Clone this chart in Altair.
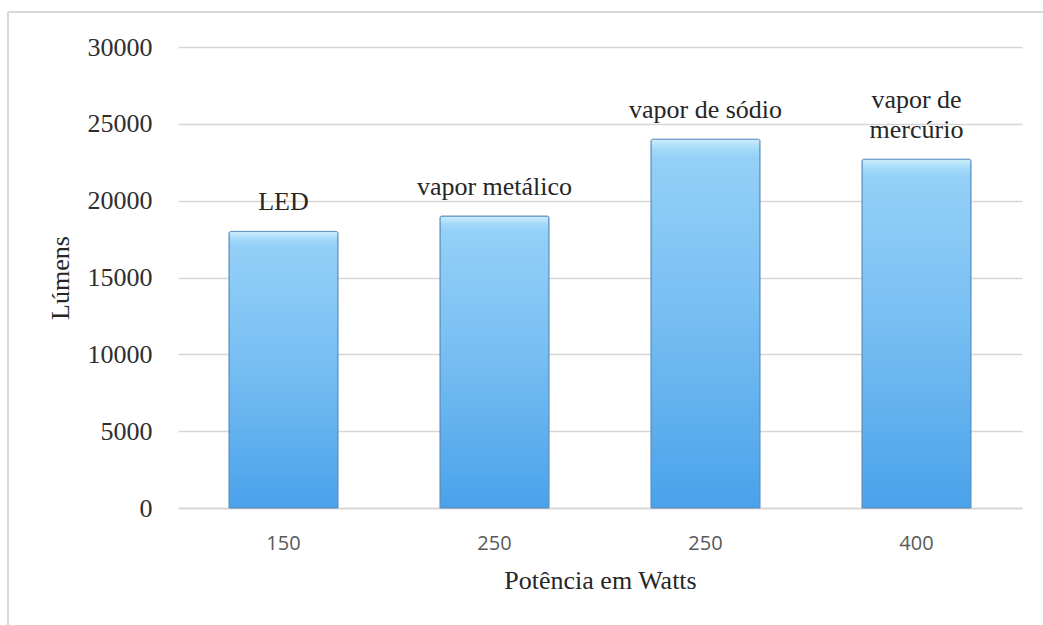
import altair as alt
import pandas as pd

# Lamp types, their rated power and luminous flux
lampadas = ["LED", "vapor metálico", "vapor de sódio", "vapor de mercúrio"]
linha_inferior = ["LED", "vapor metálico", "vapor de sódio", "mercúrio"]
linha_superior = ["", "", "", "vapor de"]
potencias = ["150", "250", "250", "400"]
lumens = [18000, 19000, 24000, 22700]
marcas_y = [0, 5000, 10000, 15000, 20000, 25000, 30000]

df = pd.DataFrame({
    "lampada": lampadas,
    "linha_inf": linha_inferior,
    "linha_sup": linha_superior,
    "watts": potencias,
    "lumens": lumens,
})

SERIF = "Liberation Serif"
TEXTO = "#262626"
GRADE = "#d6d6d6"

# x labels show the power of each lamp instead of its name
nomes_js = "[" + ",".join("'" + n + "'" for n in lampadas) + "]"
watts_js = "[" + ",".join("'" + w + "'" for w in potencias) + "]"
rotulo_x = f"{watts_js}[indexof({nomes_js}, datum.value)]"

preenchimento = alt.Gradient(
    gradient="linear", x1=0, x2=0, y1=0, y2=1,
    stops=[
        alt.GradientStop(color="#cdeefc", offset=0.0),
        alt.GradientStop(color="#a6dbf9", offset=0.025),
        alt.GradientStop(color="#94d0f7", offset=0.05),
        alt.GradientStop(color="#75bdf2", offset=0.5),
        alt.GradientStop(color="#4aa2ea", offset=1.0),
    ],
)

x_enc = alt.X(
    "lampada:N",
    sort=lampadas,
    scale=alt.Scale(paddingInner=0.483, paddingOuter=0.2415),
    axis=alt.Axis(
        title="Potência em Watts",
        titleFont=SERIF, titleFontSize=26, titleFontWeight="normal",
        titleColor=TEXTO, titleY=72, titleBaseline="middle",
        labelExpr=rotulo_x, labelAngle=0,
        labelFont="Open Sans", labelFontSize=20, labelColor="#595959",
        labelPadding=25, ticks=False, grid=False,
        domainColor=GRADE, domainWidth=1.5,
    ),
)

y_enc = alt.Y(
    "lumens:Q",
    scale=alt.Scale(domain=[0, 30000], nice=False),
    axis=alt.Axis(
        title="Lúmens",
        titleFont=SERIF, titleFontSize=26, titleFontWeight="normal",
        titleColor=TEXTO, titleX=-118, titleY=230.5,
        titleAlign="center", titleBaseline="middle",
        values=marcas_y, format="d",
        labelFont=SERIF, labelFontSize=26, labelColor="#2e2e2e",
        labelPadding=26, ticks=False, domain=False,
        gridColor=GRADE, gridWidth=1.5,
    ),
)

barras = alt.Chart(df).mark_bar(
    fill=preenchimento, stroke="#5a8fc0", strokeWidth=1,
    cornerRadiusTopLeft=2, cornerRadiusTopRight=2,
).encode(x=x_enc, y=y_enc)

x_txt = alt.X("lampada:N", sort=lampadas)

# label line sitting just above each bar
texto_inf = alt.Chart(df).mark_text(
    baseline="bottom", dy=-16, font=SERIF, fontSize=26, color=TEXTO,
).encode(x=x_txt, y="lumens:Q", text="linha_inf:N")

# optional first line for two-line labels
texto_sup = alt.Chart(df).mark_text(
    baseline="bottom", dy=-46, font=SERIF, fontSize=26, color=TEXTO,
).encode(x=x_txt, y="lumens:Q", text="linha_sup:N")

# light frame around the chart area
moldura = pd.DataFrame({"k": [0]})
borda_esq = alt.Chart(moldura).mark_rule(color="#d9d9d9", strokeWidth=2).encode(
    x=alt.value(-170), y=alt.value(-35), y2=alt.value(580)
)
borda_top = alt.Chart(moldura).mark_rule(color="#d9d9d9", strokeWidth=2).encode(
    x=alt.value(-170), x2=alt.value(870), y=alt.value(-35)
)

chart = alt.layer(borda_esq, borda_top, barras, texto_inf, texto_sup).properties(
    width=844,
    height=461,
    padding={"left": 178, "top": 47, "right": 21, "bottom": 117},
    autosize=alt.AutoSizeParams(type="none"),
    background="white",
).configure_view(stroke=None)

chart.save("out.html", embed_options={"renderer": "svg", "actions": False})
